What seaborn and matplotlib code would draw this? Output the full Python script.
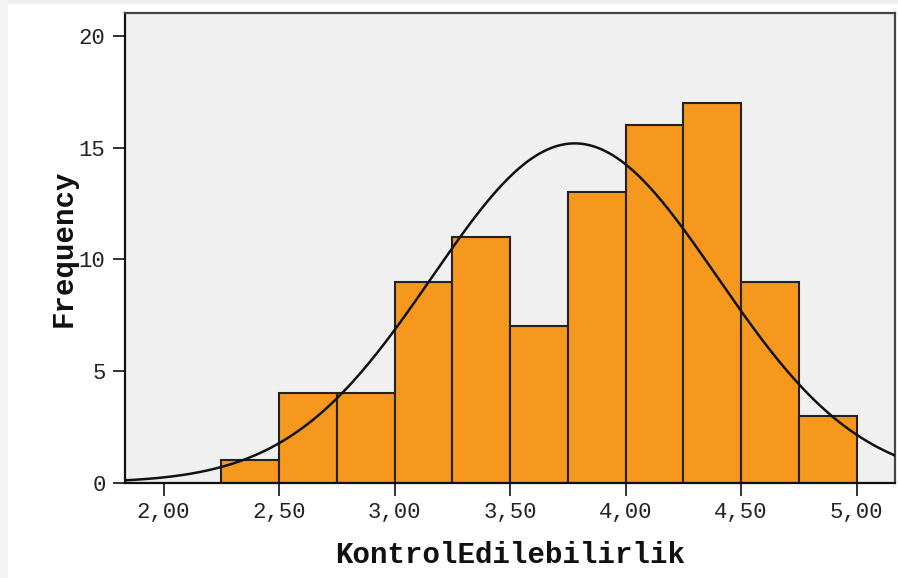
import numpy as np
import pandas as pd
import matplotlib
matplotlib.use("Agg")
import matplotlib.pyplot as plt
from matplotlib.patches import Rectangle
import seaborn as sns

# Histogram of KontrolEdilebilirlik scores (bin width 0.25)
bin_edges = [2.25, 2.50, 2.75, 3.00, 3.25, 3.50, 3.75, 4.00, 4.25, 4.50, 4.75, 5.00]
counts = [1, 4, 4, 9, 11, 7, 13, 16, 17, 9, 3]

# Fitted normal curve parameters
curve_mean = 3.78
curve_sd = 0.617

x_ticks = [2.00, 2.50, 3.00, 3.50, 4.00, 4.50, 5.00]
x_tick_labels = ["2,00", "2,50", "3,00", "3,50", "4,00", "4,50", "5,00"]
y_ticks = [0, 5, 10, 15, 20]

sns.set_theme(style="white")
plt.rcParams["font.family"] = ["Liberation Mono", "DejaVu Sans Mono"]

fig = plt.figure(figsize=(8.98, 5.78), dpi=100)

# thin light frame along the top and left edges of the canvas
fig.patches.append(Rectangle((0, 0.993), 1, 0.007, transform=fig.transFigure,
                             facecolor="#efefef", edgecolor="none", zorder=0))
fig.patches.append(Rectangle((0, 0), 0.009, 1, transform=fig.transFigure,
                             facecolor="#f4f4f4", edgecolor="none", zorder=0))

ax = fig.add_axes([0.1392, 0.1649, 0.8575, 0.8121])
ax.set_facecolor("#f0f0f0")

centers = [(a + b) / 2 for a, b in zip(bin_edges[:-1], bin_edges[1:])]
df = pd.DataFrame({"value": centers, "count": counts})
sns.histplot(data=df, x="value", weights="count", bins=bin_edges, ax=ax,
             color="#f7981e", alpha=1.0, edgecolor="#222222", linewidth=1.5,
             zorder=2)

bin_width = bin_edges[1] - bin_edges[0]
n_total = sum(counts)
xs = np.linspace(1.80, 5.20, 400)
ys = n_total * bin_width * np.exp(-0.5 * ((xs - curve_mean) / curve_sd) ** 2) / (curve_sd * np.sqrt(2 * np.pi))
sns.lineplot(x=xs, y=ys, ax=ax, color="#111111", linewidth=1.8, zorder=3)

ax.set_xlim(1.8333, 5.1667)
ax.set_ylim(0, 21.02)
ax.set_xticks(x_ticks)
ax.set_xticklabels(x_tick_labels)
ax.set_yticks(y_ticks)

ax.tick_params(axis="both", which="major", direction="out", length=9,
               width=1.3, color="#222222", labelsize=16, labelcolor="#222222",
               bottom=True, left=True, pad=5)

for side in ["left", "bottom"]:
    ax.spines[side].set_color("#111111")
    ax.spines[side].set_linewidth(1.6)
for side in ["top", "right"]:
    ax.spines[side].set_color("#444444")
    ax.spines[side].set_linewidth(1.6)

ax.set_xlabel("KontrolEdilebilirlik", fontsize=21, fontweight="bold",
              color="#111111", labelpad=13)
ax.set_ylabel("Frequency", fontsize=21, fontweight="bold",
              color="#111111", labelpad=1)

fig.savefig("out.png", dpi=100, facecolor="white")
